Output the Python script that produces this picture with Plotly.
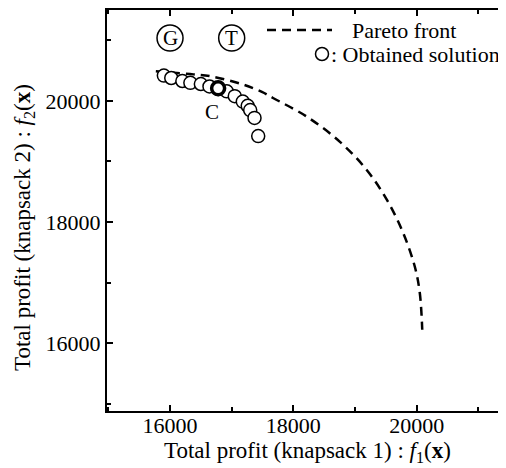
import plotly.graph_objects as go

# Pareto front (dashed curve)
pareto_f1 = [15770, 16380, 16650, 17190, 17490, 17670, 18220, 18760, 19190, 19520, 19780, 19970, 20050, 20090]
pareto_f2 = [20490, 20440, 20410, 20270, 20150, 20050, 19740, 19320, 18860, 18360, 17820, 17260, 16830, 16220]

# Obtained solutions (open circles)
sol_f1 = [15900, 16020, 16200, 16330, 16500, 16640, 16780, 16920, 17050, 17180, 17260, 17300, 17370, 17430]
sol_f2 = [20420, 20380, 20330, 20300, 20280, 20240, 20200, 20160, 20080, 19990, 19920, 19850, 19720, 19420]

# Compromise solution "C" (bold circle)
c_f1 = [16780]
c_f2 = [20210]
c_label_f1 = 16680
c_label_f2 = 19820

# Circled marks G and T
mark_labels = ["G", "T"]
mark_f1 = [16000, 17000]
mark_f2 = [21040, 21040]

x_ticks = [16000, 18000, 20000]
y_ticks = [16000, 18000, 20000]

FONT = "Liberation Serif"
FS = 23
TFS = 22
OFF = 8  # page body margin
W, H = 506 - OFF, 468 - OFF
# plot area in window pixels: x 107..505, y 10..411
ML, MT = 107 - OFF, 10 - OFF
MR = W - (505 - OFF)
MB = H - (411 - OFF)
PW, PH = W - ML - MR, H - MT - MB

def px(x):
    return (x - 107) / PW

def py(y):
    return (411 - y) / PH

fig = go.Figure()
fig.add_trace(go.Scatter(
    x=pareto_f1, y=pareto_f2, mode="lines", line_shape="spline",
    line=dict(color="black", width=2.5, dash="9px,6px"), hoverinfo="skip"))
fig.add_trace(go.Scatter(
    x=sol_f1, y=sol_f2, mode="markers",
    marker=dict(symbol="circle", size=13, color="white", line=dict(color="black", width=1.5))))
fig.add_trace(go.Scatter(
    x=c_f1, y=c_f2, mode="markers",
    marker=dict(symbol="circle", size=13, color="white", line=dict(color="black", width=3.5))))

shapes = []
annotations = []
for lab, mx, my in zip(mark_labels, mark_f1, mark_f2):
    shapes.append(dict(type="circle", xref="x", yref="y", xsizemode="pixel", ysizemode="pixel",
                       xanchor=mx, yanchor=my, x0=-13, x1=13, y0=-13, y1=13,
                       line=dict(color="black", width=1.5)))
    annotations.append(dict(x=mx, y=my, xref="x", yref="y", text=lab, showarrow=False,
                            xanchor="center", yanchor="middle",
                            font=dict(family=FONT, size=21, color="black")))

annotations.append(dict(x=c_label_f1, y=c_label_f2, xref="x", yref="y", text="C", showarrow=False,
                        xanchor="center", yanchor="middle",
                        font=dict(family=FONT, size=21, color="black")))

# Legend (drawn manually)
shapes.append(dict(type="line", xref="paper", yref="paper", x0=px(267), x1=px(332), y0=py(30), y1=py(30),
                   line=dict(color="black", width=2.5, dash="9px,6px")))
annotations.append(dict(x=px(350), y=py(30), xref="paper", yref="paper", xanchor="left", yanchor="middle",
                        text="Pareto front", showarrow=False, font=dict(family=FONT, size=22, color="black")))
shapes.append(dict(type="circle", xref="paper", yref="paper", xsizemode="pixel", ysizemode="pixel",
                   xanchor=px(322), yanchor=py(54), x0=-6.5, x1=6.5, y0=-6.5, y1=6.5,
                   line=dict(color="black", width=1.5)))
annotations.append(dict(x=px(329), y=py(54), xref="paper", yref="paper", xanchor="left", yanchor="middle",
                        text=": Obtained solution", showarrow=False, font=dict(family=FONT, size=22, color="black")))

# Axis titles
annotations.append(dict(x=px(307), y=py(452), xref="paper", yref="paper", xanchor="center", yanchor="middle",
                        text="Total profit (knapsack 1) : <i>f</i><sub>1</sub>(<b>x</b>)",
                        showarrow=False, font=dict(family=FONT, size=FS, color="black")))
annotations.append(dict(x=px(24), y=py(228), xref="paper", yref="paper", xanchor="center", yanchor="middle",
                        textangle=-90,
                        text="Total profit (knapsack 2) : <i>f</i><sub>2</sub>(<b>x</b>)",
                        showarrow=False, font=dict(family=FONT, size=FS, color="black")))

axis_common = dict(
    showgrid=False, zeroline=False, showline=True, linecolor="black", linewidth=2,
    mirror="allticks", ticks="inside", ticklen=6, tickwidth=1.5, tickcolor="black",
    tickfont=dict(family=FONT, size=TFS, color="black"), automargin=False,
    minor=dict(ticks="inside", ticklen=4, tickwidth=1.5, tickcolor="black", dtick=1000, tick0=15000),
)

fig.update_layout(
    width=W, height=H, margin=dict(l=ML, r=MR, t=MT, b=MB, autoexpand=False),
    plot_bgcolor="white", paper_bgcolor="white", showlegend=False,
    font=dict(family=FONT, size=FS, color="black"),
    xaxis=dict(range=[14978, 21432], tickvals=x_ticks, ticktext=[str(v) for v in x_ticks],
               ticklabelstandoff=-6, **axis_common),
    yaxis=dict(range=[14876, 21504], tickvals=y_ticks, ticktext=[str(v) for v in y_ticks], **axis_common),
    shapes=shapes, annotations=annotations,
)

fig.write_html("out.html")
